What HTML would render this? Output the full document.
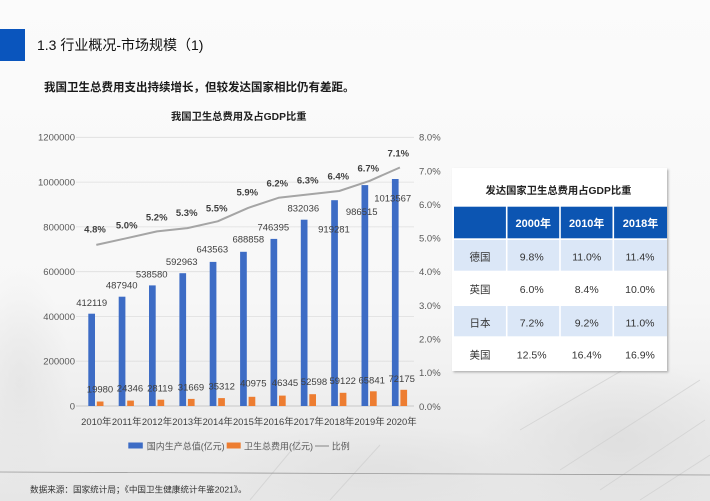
<!DOCTYPE html>
<html><head><meta charset="utf-8"><style>
html,body{margin:0;padding:0;background:#fafafa;}
svg{display:block;}
text{font-family:"Liberation Sans","Noto Sans CJK SC",sans-serif;}
</style></head><body>
<svg width="710" height="501" viewBox="0 0 710 501" xmlns="http://www.w3.org/2000/svg">
<defs>
<linearGradient id="bg" x1="0" y1="0" x2="0" y2="1">
<stop offset="0" stop-color="#fbfbfb"/><stop offset="0.6" stop-color="#f7f7f7"/><stop offset="0.85" stop-color="#ececec"/><stop offset="1" stop-color="#e6e6e6"/>
</linearGradient>
<radialGradient id="tex1" cx="0.5" cy="0.5" r="0.5"><stop offset="0" stop-color="#dcdcdc" stop-opacity="0.8"/><stop offset="1" stop-color="#dcdcdc" stop-opacity="0"/></radialGradient>
<filter id="sh" x="-5%" y="-5%" width="115%" height="115%"><feDropShadow dx="1.5" dy="1.5" stdDeviation="1" flood-color="#888" flood-opacity="0.6"/></filter>
</defs>
<rect width="710" height="501" fill="url(#bg)"/>
<ellipse cx="620" cy="440" rx="140" ry="80" fill="url(#tex1)"/>
<ellipse cx="380" cy="470" rx="160" ry="45" fill="url(#tex1)" opacity="0.7"/>
<ellipse cx="20" cy="380" rx="50" ry="110" fill="url(#tex1)" opacity="0.6"/>
<g stroke="#cfcfcf" stroke-width="1" opacity="0.7" fill="none">
<path d="M560 470 L700 380"/><path d="M600 490 L705 420"/><path d="M520 430 L640 360"/><path d="M640 500 L710 455"/>
<path d="M250 500 L300 440"/><path d="M330 500 L380 445"/>
</g>

<!-- header -->
<rect x="0" y="29" width="25" height="32" fill="#0a55bd"/>
<text x="37" y="50" font-size="14" fill="#111">1.3 行业概况-市场规模（1)</text>
<text x="44" y="91" font-size="11.5" font-weight="bold" fill="#1a1a1a">我国卫生总费用支出持续增长，但较发达国家相比仍有差距。</text>
<text x="171" y="120" font-size="10.3" font-weight="bold" fill="#222">我国卫生总费用及占GDP比重</text>

<!-- grid -->
<g stroke="#dedede" stroke-width="0.8">
<line x1="76" y1="137.3" x2="414" y2="137.3"/>
<line x1="76" y1="182.1" x2="414" y2="182.1"/>
<line x1="76" y1="226.9" x2="414" y2="226.9"/>
<line x1="76" y1="271.7" x2="414" y2="271.7"/>
<line x1="76" y1="316.4" x2="414" y2="316.4"/>
<line x1="76" y1="361.2" x2="414" y2="361.2"/>
</g>
<line x1="76" y1="406" x2="414" y2="406" stroke="#c8c8c8" stroke-width="0.9"/>

<!-- left axis -->
<g font-size="9.5" fill="#595959" text-anchor="end">
<text x="75" y="140.7">1200000</text>
<text x="75" y="185.5">1000000</text>
<text x="75" y="230.3">800000</text>
<text x="75" y="275.1">600000</text>
<text x="75" y="319.8">400000</text>
<text x="75" y="364.6">200000</text>
<text x="75" y="409.4">0</text>
</g>
<!-- right axis -->
<g font-size="9.5" fill="#595959">
<text x="419" y="140.6">8.0%</text>
<text x="419" y="174.3">7.0%</text>
<text x="419" y="207.9">6.0%</text>
<text x="419" y="241.6">5.0%</text>
<text x="419" y="275.2">4.0%</text>
<text x="419" y="308.9">3.0%</text>
<text x="419" y="342.5">2.0%</text>
<text x="419" y="376.2">1.0%</text>
<text x="419" y="409.8">0.0%</text>
</g>

<!-- blue bars -->
<g fill="#3d6cc5">
<rect x="88.3" y="313.7" width="6.7" height="92.3"/>
<rect x="118.7" y="296.7" width="6.7" height="109.3"/>
<rect x="149.0" y="285.4" width="6.7" height="120.6"/>
<rect x="179.4" y="273.2" width="6.7" height="132.8"/>
<rect x="209.7" y="261.9" width="6.7" height="144.1"/>
<rect x="240.1" y="251.8" width="6.7" height="154.2"/>
<rect x="270.5" y="238.9" width="6.7" height="167.1"/>
<rect x="300.8" y="219.7" width="6.7" height="186.3"/>
<rect x="331.2" y="200.2" width="6.7" height="205.8"/>
<rect x="361.5" y="185.1" width="6.7" height="220.9"/>
<rect x="391.9" y="179.0" width="6.7" height="227.0"/>
</g>
<!-- orange bars -->
<g fill="#ed7d31">
<rect x="96.8" y="401.5" width="6.7" height="4.5"/>
<rect x="127.2" y="400.6" width="6.7" height="5.4"/>
<rect x="157.5" y="399.7" width="6.7" height="6.3"/>
<rect x="187.9" y="398.9" width="6.7" height="7.1"/>
<rect x="218.2" y="398.1" width="6.7" height="7.9"/>
<rect x="248.6" y="396.8" width="6.7" height="9.2"/>
<rect x="279.0" y="395.6" width="6.7" height="10.4"/>
<rect x="309.3" y="394.2" width="6.7" height="11.8"/>
<rect x="339.7" y="392.8" width="6.7" height="13.2"/>
<rect x="370.0" y="391.3" width="6.7" height="14.7"/>
<rect x="400.4" y="389.8" width="6.7" height="16.2"/>
</g>

<!-- line -->
<polyline fill="none" stroke="#a5a5a5" stroke-width="2" stroke-linejoin="round" points="96.3,244.9 126.7,238.2 157.0,231.4 187.4,228.1 217.7,221.3 248.1,207.9 278.5,197.8 308.8,194.4 339.2,191.0 369.5,180.9 399.9,167.5"/>

<!-- percent labels -->
<g font-size="9.5" font-weight="bold" fill="#404040" text-anchor="middle">
<text x="95" y="232.4">4.8%</text>
<text x="126.7" y="228.4">5.0%</text>
<text x="156.7" y="220.7">5.2%</text>
<text x="186.7" y="216.1">5.3%</text>
<text x="216.7" y="211.7">5.5%</text>
<text x="247.3" y="195.7">5.9%</text>
<text x="277.3" y="186.7">6.2%</text>
<text x="307.7" y="183.4">6.3%</text>
<text x="338.3" y="179.4">6.4%</text>
<text x="368.3" y="171.7">6.7%</text>
<text x="398.3" y="156.7">7.1%</text>
</g>

<!-- blue value labels -->
<g font-size="9.5" fill="#404040" text-anchor="middle">
<text x="91.7" y="306.1">412119</text>
<text x="121.7" y="288.4">487940</text>
<text x="151.7" y="277.4">538580</text>
<text x="181.7" y="265.1">592963</text>
<text x="212.3" y="252.7">643563</text>
<text x="248.3" y="242.7">688858</text>
<text x="273.3" y="230.7">746395</text>
<text x="303.3" y="211.7">832036</text>
<text x="334" y="232.4">919281</text>
<text x="361.7" y="215.1">986515</text>
<text x="392.7" y="201.7">1013567</text>
</g>
<!-- orange value labels -->
<g font-size="9.5" fill="#404040" text-anchor="middle">
<text x="100" y="392.7">19980</text>
<text x="130" y="391.7">24346</text>
<text x="160" y="391.4">28119</text>
<text x="191" y="390.4">31669</text>
<text x="221.7" y="389.4">35312</text>
<text x="253.3" y="386.7">40975</text>
<text x="285" y="386.1">46345</text>
<text x="314" y="385.1">52598</text>
<text x="342.7" y="384.1">59122</text>
<text x="371.7" y="383.4">65841</text>
<text x="401.7" y="382.1">72175</text>
</g>

<!-- x labels -->
<g font-size="9.4" fill="#404040" text-anchor="middle">
<text x="96.3" y="425">2010年</text>
<text x="126.7" y="425">2011年</text>
<text x="157.0" y="425">2012年</text>
<text x="187.4" y="425">2013年</text>
<text x="217.7" y="425">2014年</text>
<text x="248.1" y="425">2015年</text>
<text x="278.5" y="425">2016年</text>
<text x="308.8" y="425">2017年</text>
<text x="339.2" y="425">2018年</text>
<text x="369.5" y="425">2019年</text>
<text x="401.5" y="425">2020年</text>
</g>

<!-- legend -->
<rect x="128.3" y="442.5" width="14.5" height="6" fill="#3d6cc5"/>
<text x="146.7" y="449.3" font-size="9" fill="#595959">国内生产总值(亿元)</text>
<rect x="226.7" y="442.5" width="14" height="6" fill="#ed7d31"/>
<text x="244" y="449.3" font-size="9" fill="#595959">卫生总费用(亿元)</text>
<line x1="315" y1="446" x2="329" y2="446" stroke="#a5a5a5" stroke-width="1.5"/>
<text x="331.7" y="449.3" font-size="9" fill="#595959">比例</text>

<!-- bottom line + footnote -->
<line x1="0" y1="472" x2="710" y2="475" stroke="#9a9a9a" stroke-width="0.8"/>
<text x="30" y="492.5" font-size="8.6" fill="#333">数据来源：国家统计局；《中国卫生健康统计年鉴2021》。</text>

<!-- table box -->
<rect x="452" y="168" width="215" height="203" fill="#ffffff" filter="url(#sh)"/>
<text x="558.5" y="194" font-size="10.3" font-weight="bold" fill="#222" text-anchor="middle">发达国家卫生总费用占GDP比重</text>
<g fill="#0c55b2">
<rect x="454" y="206.7" width="51.9" height="31.6"/>
<rect x="507.5" y="206.7" width="51.7" height="31.6"/>
<rect x="560.8" y="206.7" width="51.7" height="31.6"/>
<rect x="614.1" y="206.7" width="52.9" height="31.6"/>
</g>
<g fill="#dbe7f7">
<rect x="454" y="240" width="51.9" height="30.7"/>
<rect x="507.5" y="240" width="51.7" height="30.7"/>
<rect x="560.8" y="240" width="51.7" height="30.7"/>
<rect x="614.1" y="240" width="52.9" height="30.7"/>
<rect x="454" y="306" width="51.9" height="30.3"/>
<rect x="507.5" y="306" width="51.7" height="30.3"/>
<rect x="560.8" y="306" width="51.7" height="30.3"/>
<rect x="614.1" y="306" width="52.9" height="30.3"/>
</g>
<g font-size="11" font-weight="bold" fill="#ffffff" text-anchor="middle">
<text x="533.3" y="227">2000年</text>
<text x="586.7" y="227">2010年</text>
<text x="640.5" y="227">2018年</text>
</g>
<g font-size="10.5" fill="#333" text-anchor="middle">
<text x="480" y="260.4">德国</text><text x="531.7" y="260.4">9.8%</text><text x="586.7" y="260.4">11.0%</text><text x="640" y="260.4">11.4%</text>
<text x="480" y="293">英国</text><text x="531.7" y="293">6.0%</text><text x="586.7" y="293">8.4%</text><text x="640" y="293">10.0%</text>
<text x="480" y="326.4">日本</text><text x="531.7" y="326.4">7.2%</text><text x="586.7" y="326.4">9.2%</text><text x="640" y="326.4">11.0%</text>
<text x="480" y="358.7">美国</text><text x="531.7" y="358.7">12.5%</text><text x="586.7" y="358.7">16.4%</text><text x="640" y="358.7">16.9%</text>
</g>
</svg>
</body></html>
